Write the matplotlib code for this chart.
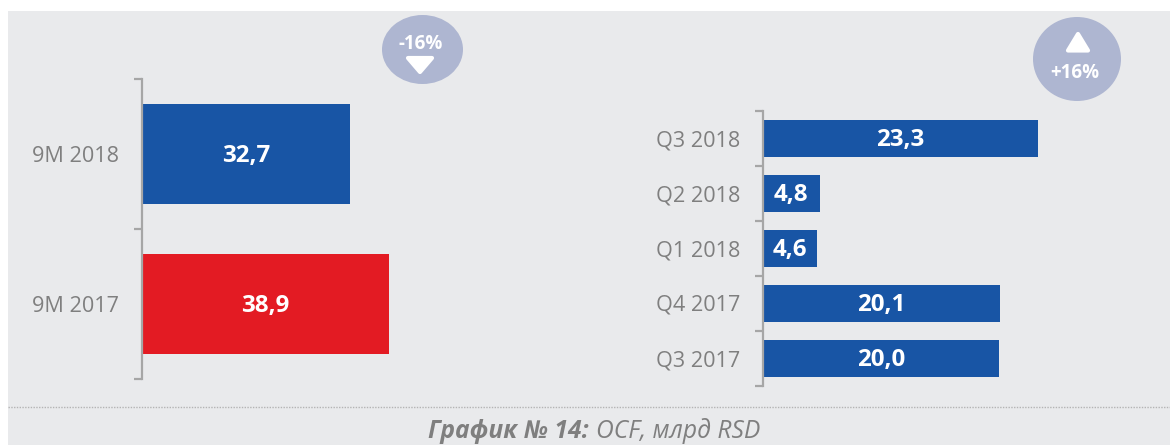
# -*- coding: utf-8 -*-
import matplotlib
matplotlib.use("Agg")
import matplotlib.pyplot as plt
from matplotlib.patches import Ellipse, Polygon, Rectangle

plt.rcParams['font.family'] = ['Open Sans', 'DejaVu Sans']

# data
cats_9m = ['9M 2017', '9M 2018']
vals_9m = [38.9, 32.7]
cols_9m = ['#E31B23', '#1855A5']

cats_q = ['Q3 2017', 'Q4 2017', 'Q1 2018', 'Q2 2018', 'Q3 2018']
vals_q = [20.0, 20.1, 4.6, 4.8, 23.3]

BG = '#E9EAEC'
GREY = '#7F7F7F'
SPINE = '#A6A6A6'
BUBBLE = '#AEB6D1'
W, H = 1170, 445


def px_axes(fig, x0, y0, x1, y1):
    # axes placed in picture pixels, y counted from the top
    return fig.add_axes([x0 / W, 1 - y1 / H, (x1 - x0) / W, (y1 - y0) / H])


def coma(v):
    return f"{v:.1f}".replace('.', ',')


def bar_panel(ax, cats, vals, colors, height, xmax, fs):
    pos = range(len(cats))
    ax.barh(list(pos), vals, height=height, color=colors)
    for p, v in zip(pos, vals):
        ax.annotate(coma(v), (v / 2, p), xytext=(0, -1.2), textcoords='offset points',
                    color='white', fontsize=fs, fontweight='bold',
                    ha='center', va='center')
    ax.set_xlim(0, xmax)
    ax.set_ylim(-0.5, len(cats) - 0.5)
    ax.patch.set_alpha(0)
    for s in ['top', 'right', 'bottom']:
        ax.spines[s].set_visible(False)
    ax.spines['left'].set_color(SPINE)
    ax.spines['left'].set_linewidth(1.6)
    ax.set_xticks([])
    ax.set_yticks(list(pos))
    ax.set_yticklabels(cats, color=GREY, fontsize=15.6)
    ax.set_yticks([p - 0.5 for p in range(len(cats) + 1)], minor=True)
    ax.tick_params(axis='y', which='major', length=0, pad=16.5)
    ax.tick_params(axis='y', which='minor', length=5.5, width=1.6, color=SPINE)


fig = plt.figure(figsize=(W / 100, H / 100), dpi=100, facecolor='white')

# decoration layer in pixels: background, dotted rule, bubbles
deco = fig.add_axes([0, 0, 1, 1], zorder=0)
deco.set_xlim(0, W)
deco.set_ylim(H, 0)
deco.axis('off')
deco.add_patch(Rectangle((8, 11), W - 8, H - 11, color=BG, lw=0))
deco.plot([8, W], [406.5, 406.5], color='#B4B4B4', lw=1, ls=(0, (1, 1)))

deco.add_patch(Ellipse((422.5, 49.5), 81, 69, color=BUBBLE, lw=0))
deco.add_patch(Polygon([(408, 58), (432, 58), (420, 72)], fc='white', ec='white',
                       lw=3, joinstyle='round'))
deco.text(420.5, 44, '-16%', color='white', fontsize=13.5, fontweight='bold',
          ha='center', va='center')

deco.add_patch(Ellipse((1077, 59), 88, 84, color=BUBBLE, lw=0))
deco.add_patch(Polygon([(1068, 50.5), (1088, 50.5), (1078, 34)], fc='white', ec='white',
                       lw=3, joinstyle='round'))
deco.text(1075, 73, '+16%', color='white', fontsize=13.5, fontweight='bold',
          ha='center', va='center')

deco.text(589, 431.5, 'График № 14:', color=GREY, fontsize=17.7, fontweight='bold',
          fontstyle='italic', ha='right', va='center')
deco.text(596, 431.5, 'OCF, млрд RSD', color=GREY, fontsize=17.7,
          fontstyle='italic', ha='left', va='center')

# left panel: 1 unit = 6.35 px
ax1 = px_axes(fig, 142, 79, 142 + 6.35 * 50, 379)
ax1.set_zorder(1)
bar_panel(ax1, cats_9m, vals_9m, cols_9m, 100 / 150, 50, 17.4)

# right panel: 1 unit = 11.8 px
ax2 = px_axes(fig, 763, 110.5, 763 + 11.8 * 30, 385.5)
ax2.set_zorder(1)
bar_panel(ax2, cats_q, vals_q, '#1855A5', 37 / 55, 30, 17.4)

fig.savefig('out.png', dpi=100, facecolor=fig.get_facecolor())
